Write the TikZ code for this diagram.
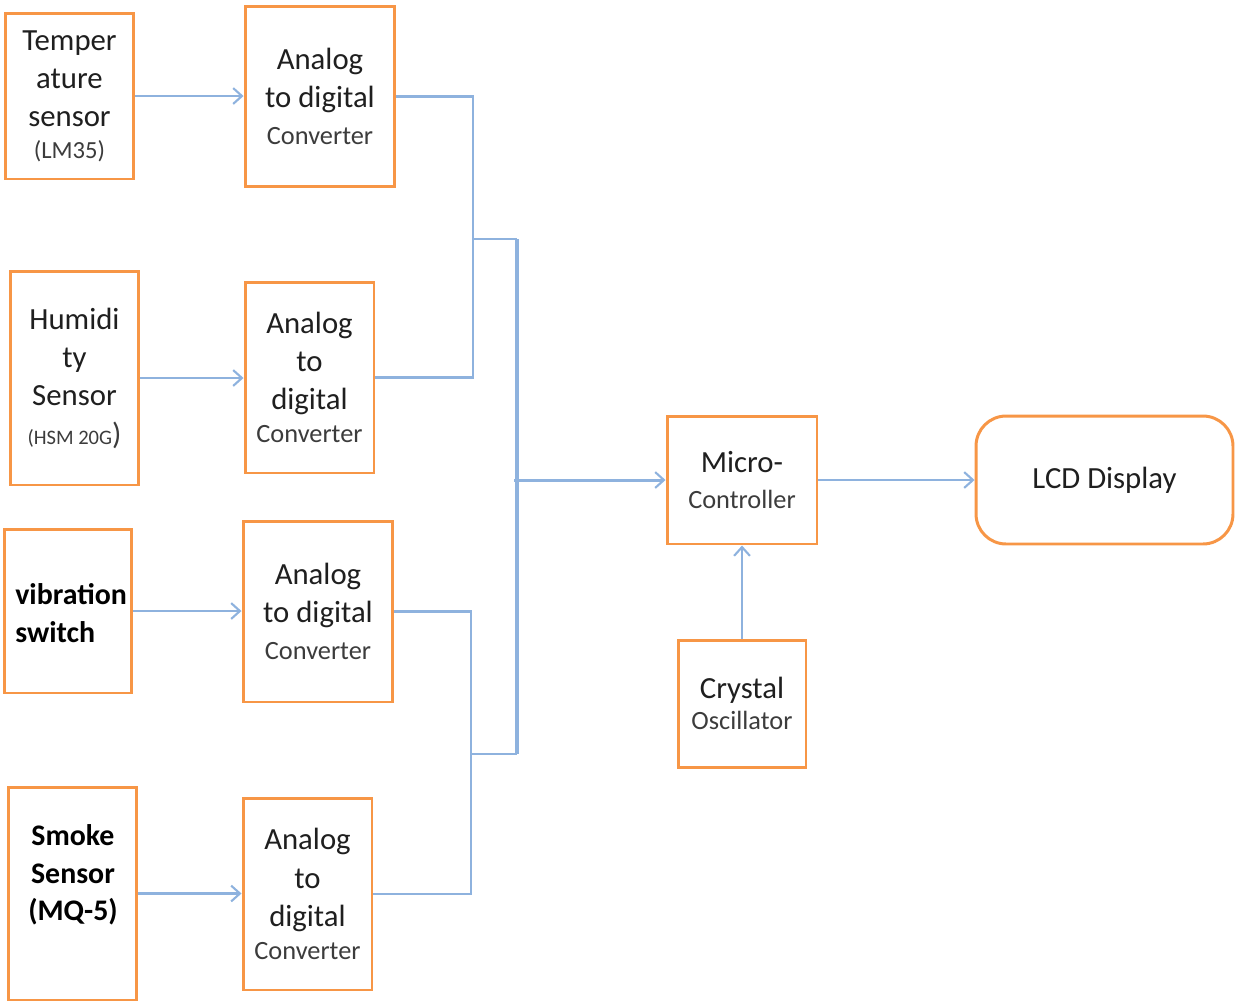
\documentclass[tikz,border=0pt]{standalone}
\usepackage{fontspec}
\setmainfont{Carlito}
\usetikzlibrary{arrows.meta}
\definecolor{boxorange}{RGB}{247,150,70}
\definecolor{wireblue}{RGB}{142,178,222}
\definecolor{subgray}{RGB}{60,60,60}
\tikzset{
  blk/.style={draw=boxorange, line width=1.7pt, fill=white, align=center, inner sep=0pt,
    font=\fontsize{17.5}{21.8}\selectfont, text=black!88},
  boldtxt/.style={font=\bfseries\fontsize{17}{21.2}\selectfont, text=black, inner sep=0pt},
  wire/.style={draw=wireblue, line width=1.3pt},
  arr/.style={wire, -{Straight Barb[length=5pt,width=9pt,line width=1.2pt]}},
  bus/.style={draw=wireblue, line width=2.4pt},
}
\newcommand\smtxt[1]{{\fontsize{15}{18}\selectfont\color{subgray}#1}}
\begin{document}
\begin{tikzpicture}[x=0.02cm,y=-0.02cm]
\useasboundingbox (0,0) rectangle (1236,1002);
% sensors
\node[blk, minimum width=2.58cm, minimum height=3.32cm] (temp) at (69.5,96)
  {Temper\\ature\\sensor\\[-4pt]{\fontsize{14}{17}\selectfont\color{subgray}(LM35)}};
\node[blk, minimum width=2.58cm, minimum height=4.28cm] (hum) at (74.5,378)
  {Humidi\\ty\\Sensor\\{\fontsize{11.7}{14}\selectfont\color{subgray}(HSM 20G}{\color{subgray})}};
\node[blk, minimum width=2.56cm, minimum height=3.28cm] (vib) at (68,611) {};
\node[boldtxt, anchor=west, align=left] (vibtxt) at (15,613) {vibration\\switch};
\node[blk, minimum width=2.58cm, minimum height=4.26cm] (smoke) at (72.5,893.5) {};
\node[boldtxt, align=center] (smoketxt) at (73,875) {Smoke\\Sensor\\(MQ-5)};
% converters
\node[blk, minimum width=3.0cm, minimum height=3.62cm] (adc1) at (320,96.5)
  {Analog\\to digital\\[-1pt]\smtxt{Converter}};
\node[blk, minimum width=2.58cm, minimum height=3.82cm] (adc2) at (309.5,377.5)
  {Analog\\to\\digital\\[-3pt]\smtxt{Converter}};
\node[blk, minimum width=3.0cm, minimum height=3.62cm] (adc3) at (318,611.5)
  {Analog\\to digital\\[-1pt]\smtxt{Converter}};
\node[blk, minimum width=2.58cm, minimum height=3.84cm] (adc4) at (307.5,894)
  {Analog\\to\\digital\\[-3pt]\smtxt{Converter}};
% controller etc.
\node[blk, minimum width=3.0cm, minimum height=2.56cm] (micro) at (742,480)
  {Micro-\\[-1pt]\smtxt{Controller}};
\node[blk, minimum width=5.14cm, minimum height=2.56cm, rounded corners=0.6cm] (lcd) at (1104.5,480)
  {LCD Display};
\node[blk, minimum width=2.56cm, minimum height=2.54cm] (crystal) at (742,703.5)
  {Crystal\\[-4pt]\smtxt{Oscillator}};
% junction coordinates
\coordinate (jA) at (473,239);
\coordinate (jB) at (471,754);
\coordinate (busTop) at (517,239);
\coordinate (busBot) at (517,754);
\coordinate (busMid) at (514,480);
% sensor -> converter
\draw[arr] (temp.east) -- (temp.east -| adc1.west);
\draw[arr] (hum.east) -- (hum.east -| adc2.west);
\draw[arr] (vib.east) -- (vib.east -| adc3.west);
\draw[arr] (smoke.east) -- (smoke.east -| adc4.west);
% converters -> bus
\draw[wire] (adc1.east) -| (jA) -- (busTop);
\draw[wire] (adc2.east) -| (jA);
\draw[wire] (adc3.east) -| (jB);
\draw[wire] (adc4.east) -| (jB);
\draw[wire] (jB) -- (busBot);
\draw[bus] (busTop) -- (busBot);
\draw[arr, line width=1.7pt] (busMid) -- (micro.west);
% controller links
\draw[arr] (micro.east) -- (lcd.west);
\draw[arr] (crystal.north) -- (micro.south);
\end{tikzpicture}
\end{document}
